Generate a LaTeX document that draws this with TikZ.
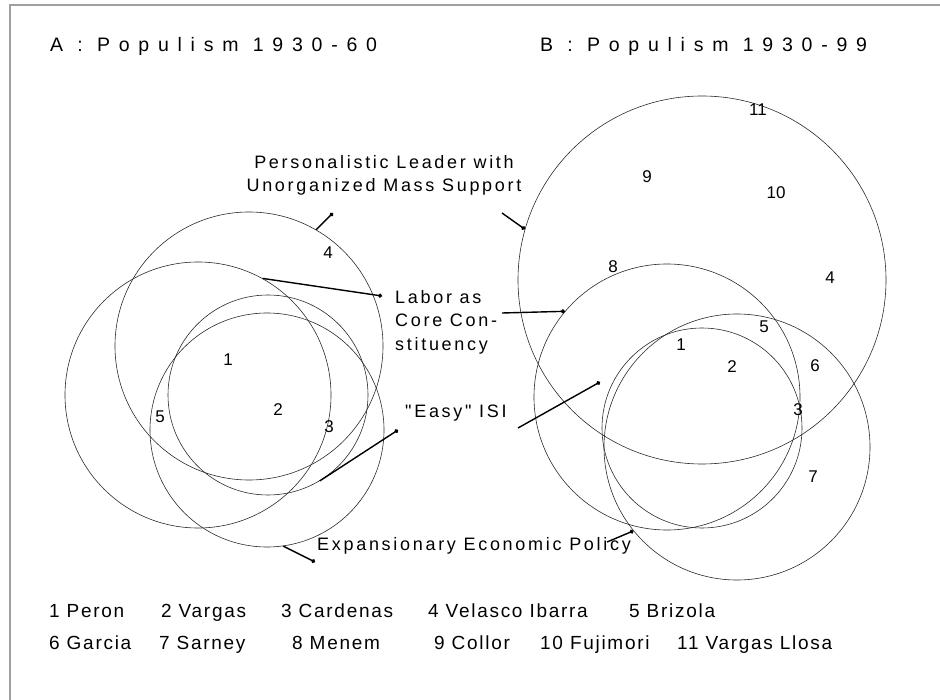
\documentclass[tikz,border=0pt]{standalone}
\usepackage{fontspec}
\setmainfont{Liberation Sans}
\newfontfamily\titlefont[LetterSpace=45]{Liberation Sans}
\newfontfamily\labelfont[LetterSpace=15]{Liberation Sans}
\newfontfamily\keyfont[LetterSpace=9]{Liberation Sans}
\usepackage{tikz}
\usetikzlibrary{arrows.meta, calc}
\usepackage{xcolor}
\definecolor{scanInk}{HTML}{2B2B2B}
\definecolor{scanFrame}{HTML}{A0A0A0}

\begin{document}
\begin{tikzpicture}[x=1pt, y=-1pt,
    ring/.style={circle, draw=scanInk, line width=0.6pt, inner sep=0pt},
    num/.style={font=\fontsize{17}{17}\selectfont, inner sep=1pt},
    lbl/.style={font=\labelfont\fontsize{18}{23.5}\selectfont, inner sep=0pt},
    key/.style={font=\keyfont\fontsize{19}{19}\selectfont, inner sep=0pt, anchor=base west},
    lead/.style={line width=1.4pt, -{Circle[length=4pt]}}]
        \useasboundingbox (0,0) rectangle (940,700);
        % Marco (solo arriba e izquierda)
        \draw[scanFrame, line width=1.2pt] (10,700) -- (10,5) -- (940,5);
        % Titulos
        \node[font=\titlefont\fontsize{19.5}{19.5}\selectfont, anchor=base west, inner sep=0pt] (titA) at (50,52) {A : Populism 1930-60};
        \node[font=\titlefont\fontsize{19.5}{19.5}\selectfont, anchor=base west, inner sep=0pt] (titB) at (540,52) {B : Populism 1930-99};
        % Circulos: nombre/centro x/centro y/diametro
        \foreach \nm/\x/\y/\d in {LPer/249/346/268, LLab/198/395/266, LIsi/268/395/200, LExp/267/430/234,
                                 RPer/702/280/368, RLab/667/397/266, RIsi/702/428/200, RExp/737/447/266} {
          \node[ring, minimum size=\d pt] (\nm) at (\x,\y) {};
        }
        % Numeros de los casos
        \foreach \n/\x/\y in {4/328/253, 1/228/360, 5/160/417, 2/278/410, 3/329/427} {
          \node[num] (nA\n) at (\x,\y) {\n};
        }
        \foreach \n/\x/\y in {11/758/110, 9/647/177, 10/776/193, 4/830/278, 8/613/267, 5/764/327,
                              1/681/345, 2/732/367, 6/815/366, 3/798/410, 7/813/477} {
          \node[num] (nB\n) at (\x,\y) {\n};
        }
        % Etiquetas
        \node[lbl, align=center, anchor=north] (pers) at (384,155) {Personalistic Leader with\\Unorganized Mass Support};
        \node[lbl, align=left, anchor=north west] (labor) at (395,290) {Labor as\\Core Con-\\stituency};
        \node[lbl, anchor=base west] (isi) at (405,418) {"Easy" ISI};
        \node[lbl, anchor=base west] (expan) at (317,550) {Expansionary Economic Policy};
        % Lineas guia
        \coordinate (persA) at (333,213);
        \coordinate (persB) at (502,213);
        \coordinate (laborA) at (382,296);
        \coordinate (laborB) at (502,313);
        \coordinate (isiA) at (398,430);
        \coordinate (isiB) at (518,428);
        \coordinate (isiC) at (600,382);
        \coordinate (expanA) at (315,562);
        \coordinate (expanB) at (607,542);
        \draw[lead] (LPer.60) -- (persA);
        \draw[lead] (persB) -- (RPer.164);
        \draw[lead] (LLab.61) -- (laborA);
        \draw[lead] (laborB) -- (RLab.140);
        \draw[lead] (LIsi.-59) -- (isiA);
        \draw[lead] (isiB) -- (isiC);
        \draw[lead] (LExp.-82) -- (expanA);
        \draw[lead] (expanB) -- (RExp.219);
        % Leyenda
        \foreach \k/\x/\t in {1/49/1 Peron, 2/161/2 Vargas, 3/281/3 Cardenas, 4/428/4 Velasco Ibarra, 5/629/5 Brizola} {
          \node[key] (key\k) at (\x,617) {\t};
        }
        \foreach \k/\x/\t in {6/49/6 Garcia, 7/159/7 Sarney, 8/292/8 Menem, 9/434/9 Collor, 10/540/10 Fujimori, 11/677/11 Vargas Llosa} {
          \node[key] (key\k) at (\x,649) {\t};
        }
      \end{tikzpicture}
\end{document}
